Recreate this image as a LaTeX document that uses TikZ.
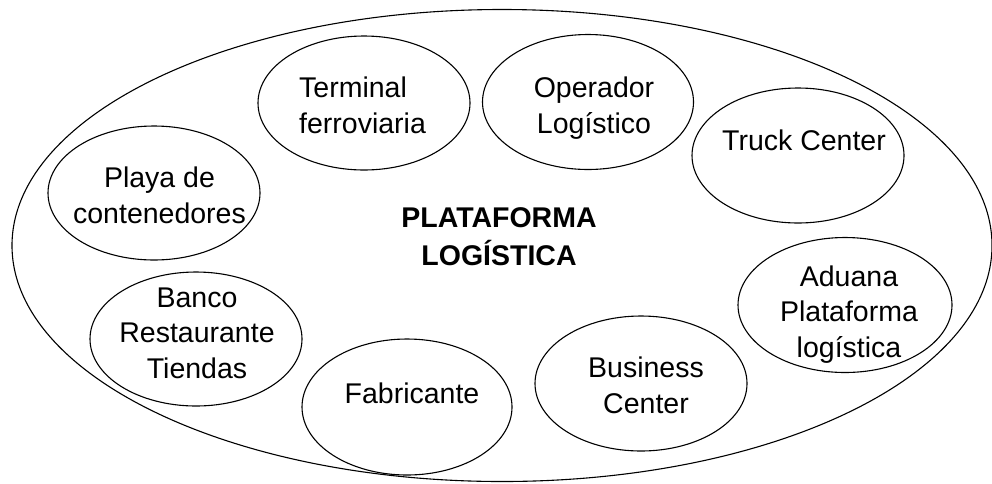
\documentclass[tikz,border=0pt]{standalone}
\usepackage{fontspec}
\setmainfont{Liberation Sans}
\usetikzlibrary{shapes.geometric}
\begin{document}
\begin{tikzpicture}[x=1pt,y=-1pt,
  ring/.style={draw=black, line width=1.1pt, ellipse, inner sep=0pt},
  unit/.style={ring, minimum width=212pt, minimum height=134pt},
  tag/.style={inner sep=0pt, align=center, font=\fontsize{28.5}{35.5}\selectfont},
  title/.style={inner sep=0pt, align=center, font=\fontsize{28.5}{38}\selectfont\bfseries}]
\useasboundingbox (0,0) rectangle (992,483);
% outer platform boundary
\node[ring, minimum width=980pt, minimum height=472pt] (plat) at (502,245.5) {};
% facilities inside the platform
\node[unit] (term) at (364,103) {};
\node[unit, minimum width=211pt, minimum height=135pt] (oper) at (588,102) {};
\node[unit, minimum height=135pt] (truck) at (798,155.5) {};
\node[unit] (playa) at (154,193) {};
\node[unit] (banco) at (196,339) {};
\node[unit, minimum width=210pt, minimum height=136pt] (fab) at (407,407) {};
\node[unit, minimum height=135pt] (bus) at (641,383.5) {};
\node[unit, minimum width=214pt, minimum height=135pt] (adu) at (845,305) {};
% labels (anchored at the baseline of their last line)
\node[tag, align=left, anchor=base west] (termT) at (299,133) {Terminal\\ferroviaria};
\node[tag, anchor=base] (operT) at (594,133) {Operador\\Logístico};
\node[tag, anchor=base] (truckT) at (804,150) {Truck Center};
\node[tag, anchor=base] (playaT) at (159.5,223) {Playa de\\contenedores};
\node[tag, anchor=base] (bancoT) at (197,378) {Banco\\Restaurante\\Tiendas};
\node[tag, anchor=base] (fabT) at (412,403) {Fabricante};
\node[tag, anchor=base] (busT) at (646,413) {Business\\Center};
\node[tag, anchor=base] (aduT) at (849,357) {Aduana\\Plataforma\\logística};
\node[title, anchor=base] (platT) at (499,265) {PLATAFORMA\\LOGÍSTICA};
\end{tikzpicture}
\end{document}
